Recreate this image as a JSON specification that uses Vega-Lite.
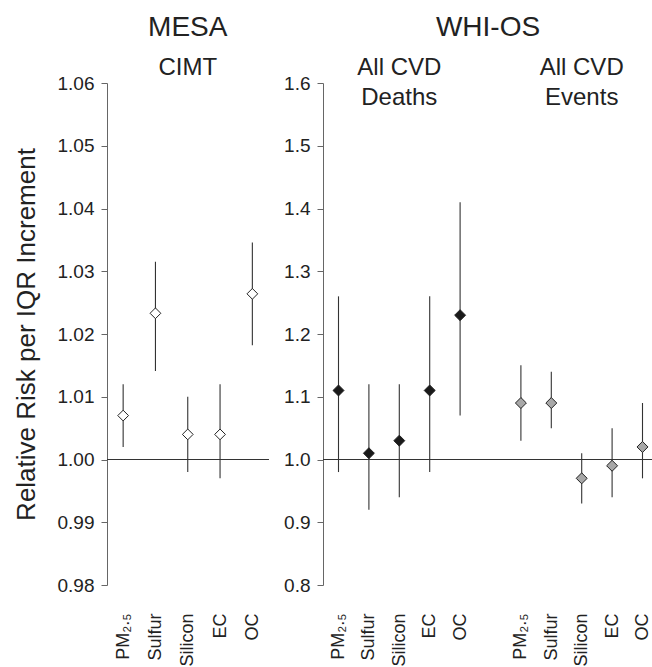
{
  "$schema": "https://vega.github.io/schema/vega-lite/v6.json",
  "padding": {"left": 13, "top": 13, "right": 0, "bottom": 0},
  "background": "white",
  "spacing": 13,
  "config": {
    "font": "Liberation Sans",
    "view": {"stroke": null},
    "title": {"fontSize": 28, "fontWeight": "normal", "color": "#222", "anchor": "middle", "offset": 14, "font": "Liberation Sans"},
    "axis": {"grid": false, "labelFont": "Liberation Sans", "labelFontSize": 19, "labelColor": "#222", "domainColor": "#666", "tickColor": "#666", "titleFont": "Liberation Sans", "titleFontWeight": "normal", "titleColor": "#222"}
  },
  "datasets": {
    "mesa": [
      {"pollutant": "PM₂.₅", "rr": 1.007, "lo": 1.002, "hi": 1.012},
      {"pollutant": "Sulfur", "rr": 1.0233, "lo": 1.0141, "hi": 1.0315},
      {"pollutant": "Silicon", "rr": 1.004, "lo": 0.998, "hi": 1.010},
      {"pollutant": "EC", "rr": 1.004, "lo": 0.997, "hi": 1.012},
      {"pollutant": "OC", "rr": 1.0264, "lo": 1.0182, "hi": 1.0346}
    ],
    "whi": [
      {"group": "Deaths", "key": "D:PM₂.₅", "rr": 1.11, "lo": 0.98, "hi": 1.26},
      {"group": "Deaths", "key": "D:Sulfur", "rr": 1.01, "lo": 0.92, "hi": 1.12},
      {"group": "Deaths", "key": "D:Silicon", "rr": 1.03, "lo": 0.94, "hi": 1.12},
      {"group": "Deaths", "key": "D:EC", "rr": 1.11, "lo": 0.98, "hi": 1.26},
      {"group": "Deaths", "key": "D:OC", "rr": 1.23, "lo": 1.07, "hi": 1.41},
      {"group": "Events", "key": "E:PM₂.₅", "rr": 1.09, "lo": 1.03, "hi": 1.15},
      {"group": "Events", "key": "E:Sulfur", "rr": 1.09, "lo": 1.05, "hi": 1.14},
      {"group": "Events", "key": "E:Silicon", "rr": 0.97, "lo": 0.93, "hi": 1.01},
      {"group": "Events", "key": "E:EC", "rr": 0.99, "lo": 0.94, "hi": 1.05},
      {"group": "Events", "key": "E:OC", "rr": 1.02, "lo": 0.97, "hi": 1.09}
    ],
    "mesaHead": [{"pollutant": "Silicon", "label": "CIMT"}],
    "whiHead": [
      {"key": "D:Silicon", "label": "All CVD\nDeaths"},
      {"key": "E:Silicon", "label": "All CVD\nEvents"}
    ]
  },
  "hconcat": [
    {
      "title": "MESA",
      "width": 161.5,
      "height": 502,
      "data": {"name": "mesa"},
      "layer": [
        {
          "mark": {"type": "rule", "color": "#333", "strokeWidth": 1.2},
          "encoding": {"y": {"datum": 1}}
        },
        {
          "mark": {"type": "rule", "color": "#333", "strokeWidth": 1.1},
          "encoding": {
            "x": {"field": "pollutant", "type": "nominal", "sort": null,
                  "scale": {"type": "point", "padding": 0.5, "domain": ["PM₂.₅", "Sulfur", "Silicon", "EC", "OC"]},
                  "axis": {"title": null, "labelAngle": -90, "ticks": false, "domain": false, "labelPadding": 28, "labelFontSize": 18}},
            "y": {"field": "lo", "type": "quantitative",
                  "scale": {"domain": [0.98, 1.06], "nice": false, "zero": false},
                  "axis": {"title": "Relative Risk per IQR Increment", "titleFontSize": 26, "titlePadding": 18, "values": [0.98, 0.99, 1.0, 1.01, 1.02, 1.03, 1.04, 1.05, 1.06], "format": ".2f", "tickSize": 6, "labelPadding": 7}},
            "y2": {"field": "hi"}
          }
        },
        {
          "mark": {"type": "point", "shape": "diamond", "filled": true, "size": 115, "fill": "white", "stroke": "#222", "strokeWidth": 1, "opacity": 1},
          "encoding": {
            "x": {"field": "pollutant", "type": "nominal", "sort": null},
            "y": {"field": "rr", "type": "quantitative"}
          }
        },
        {
          "data": {"name": "mesaHead"},
          "mark": {"type": "text", "fontSize": 24, "color": "#222", "baseline": "alphabetic", "align": "center"},
          "encoding": {
            "x": {"field": "pollutant", "type": "nominal"},
            "y": {"datum": 1.06135},
            "text": {"field": "label"}
          }
        }
      ]
    },
    {
      "title": "WHI-OS",
      "width": 330,
      "height": 502,
      "data": {"name": "whi"},
      "layer": [
        {
          "mark": {"type": "rule", "color": "#333", "strokeWidth": 1.2},
          "encoding": {"y": {"datum": 1}}
        },
        {
          "mark": {"type": "rule", "color": "#333", "strokeWidth": 1.1},
          "encoding": {
            "x": {"field": "key", "type": "nominal", "sort": null,
                  "scale": {"type": "point", "padding": 0, "domain": ["D:PM₂.₅", "D:Sulfur", "D:Silicon", "D:EC", "D:OC", "gap:", "E:PM₂.₅", "E:Sulfur", "E:Silicon", "E:EC", "E:OC"], "range": [15.5, 319.5]},
                  "axis": {"title": null, "labelAngle": -90, "ticks": false, "domain": false, "labelPadding": 28, "labelFontSize": 18, "labelExpr": "split(datum.label, ':')[1]"}},
            "y": {"field": "lo", "type": "quantitative",
                  "scale": {"domain": [0.8, 1.6], "nice": false, "zero": false},
                  "axis": {"title": null, "values": [0.8, 0.9, 1.0, 1.1, 1.2, 1.3, 1.4, 1.5, 1.6], "format": ".1f", "tickSize": 6, "labelPadding": 7}},
            "y2": {"field": "hi"}
          }
        },
        {
          "mark": {"type": "point", "shape": "diamond", "filled": true, "size": 120, "stroke": "#222", "strokeWidth": 1, "opacity": 1},
          "encoding": {
            "x": {"field": "key", "type": "nominal", "sort": null},
            "y": {"field": "rr", "type": "quantitative"},
            "fill": {"field": "group", "type": "nominal", "scale": {"domain": ["Deaths", "Events"], "range": ["#1a1a1a", "#a8a8a8"]}, "legend": null}
          }
        },
        {
          "data": {"name": "whiHead"},
          "mark": {"type": "text", "fontSize": 24, "color": "#222", "baseline": "alphabetic", "align": "center", "lineBreak": "\n", "lineHeight": 30},
          "encoding": {
            "x": {"field": "key", "type": "nominal"},
            "y": {"datum": 1.6135},
            "text": {"field": "label"}
          }
        }
      ]
    }
  ]
}
